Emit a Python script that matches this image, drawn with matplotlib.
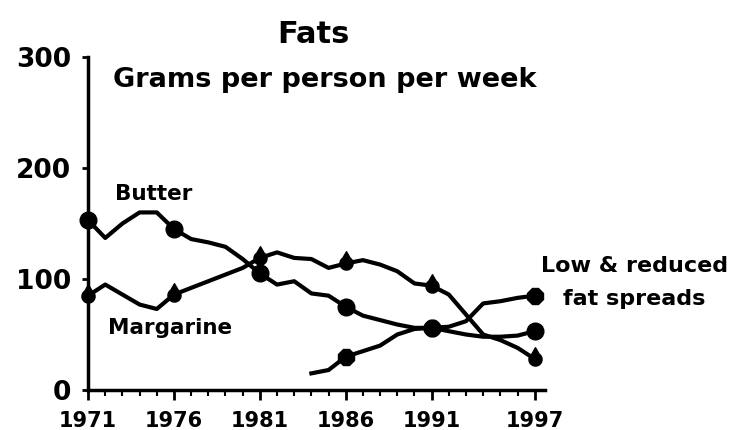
import matplotlib.pyplot as plt
import numpy as np
from matplotlib.path import Path

years = list(range(1971, 1998))
butter = [153, 137, 150, 160, 160, 145, 136, 133, 129, 118, 105, 95, 98, 87, 85,
          75, 67, 63, 59, 56, 56, 53, 50, 48, 48, 49, 53]
margarine = [85, 95, 86, 77, 73, 86, 92, 98, 104, 110, 119, 124, 119, 118, 110,
             114, 117, 113, 107, 96, 94, 86, 68, 50, 45, 38, 28]
spread_years = list(range(1984, 1998))
spreads = [15, 18, 30, 35, 40, 50, 55, 56, 57, 62, 78, 80, 83, 85]

marker_years = [1971, 1976, 1981, 1986, 1991, 1997]
spread_marker_years = [1986, 1991, 1997]
tick_years = [1971, 1976, 1981, 1986, 1991, 1997]

# teardrop marker shape for margarine: tip on top, round bottom
ang = np.radians(np.linspace(56, -236, 40))
arc = np.column_stack([np.cos(ang), np.sin(ang)])
pts = np.vstack([[[0, 1.8]], arc, [[0, 1.8]]])
codes = [Path.MOVETO] + [Path.LINETO] * (len(pts) - 2) + [Path.CLOSEPOLY]
drop_marker = Path(pts, codes)

plt.rcParams['font.family'] = 'DejaVu Sans'
plt.rcParams['font.weight'] = 'bold'

fig = plt.figure(figsize=(7.34, 4.30), dpi=100)
ax = fig.add_axes([0.120, 0.0930, 0.6225, 0.7744])

ax.plot(years, butter, color='black', lw=3, solid_joinstyle='round', clip_on=False)
ax.plot(years, margarine, color='black', lw=3, solid_joinstyle='round', clip_on=False)
ax.plot(spread_years, spreads, color='black', lw=3, solid_joinstyle='round', clip_on=False)

bm = [butter[years.index(y)] for y in marker_years]
mm = [margarine[years.index(y)] for y in marker_years]
sm = [spreads[spread_years.index(y)] for y in spread_marker_years]
ax.plot(marker_years, bm, 'o', color='black', ms=12, clip_on=False, zorder=5)
ax.plot(marker_years, mm, ls='none', marker=drop_marker, mfc='black', mec='black',
        ms=17, clip_on=False, zorder=5)
ax.plot(spread_marker_years, sm, '8', color='black', ms=13, clip_on=False, zorder=5)

ax.set_xlim(1971, 1997.6)
ax.set_ylim(0, 300)
ax.set_xticks(tick_years)
ax.set_xticks(years, minor=True)
ax.set_yticks([0, 100, 200, 300])
ax.tick_params(axis='x', which='major', length=7, width=2, labelsize=15, pad=8)
ax.tick_params(axis='x', which='minor', length=4, width=1.5)
ax.tick_params(axis='y', length=4, width=2, labelsize=19, pad=8)
for s in ['top', 'right']:
    ax.spines[s].set_visible(False)
for s in ['left', 'bottom']:
    ax.spines[s].set_linewidth(2.5)

ax.text(1974.8, 177, 'Butter', ha='center', va='center', fontsize=15.5, fontweight='bold')
ax.text(1975.8, 56, 'Margarine', ha='center', va='center', fontsize=15.5, fontweight='bold')
ax.text(2002.8, 112, 'Low & reduced', ha='center', va='center', fontsize=16, fontweight='bold')
ax.text(2002.8, 82, 'fat spreads', ha='center', va='center', fontsize=16, fontweight='bold')

fig.text(0.427, 0.919, 'Fats', ha='center', va='center', fontsize=22, fontweight='bold')
fig.text(0.154, 0.814, 'Grams per person per week', ha='left', va='center',
         fontsize=19.5, fontweight='bold')

fig.savefig('out.png', dpi=100)
